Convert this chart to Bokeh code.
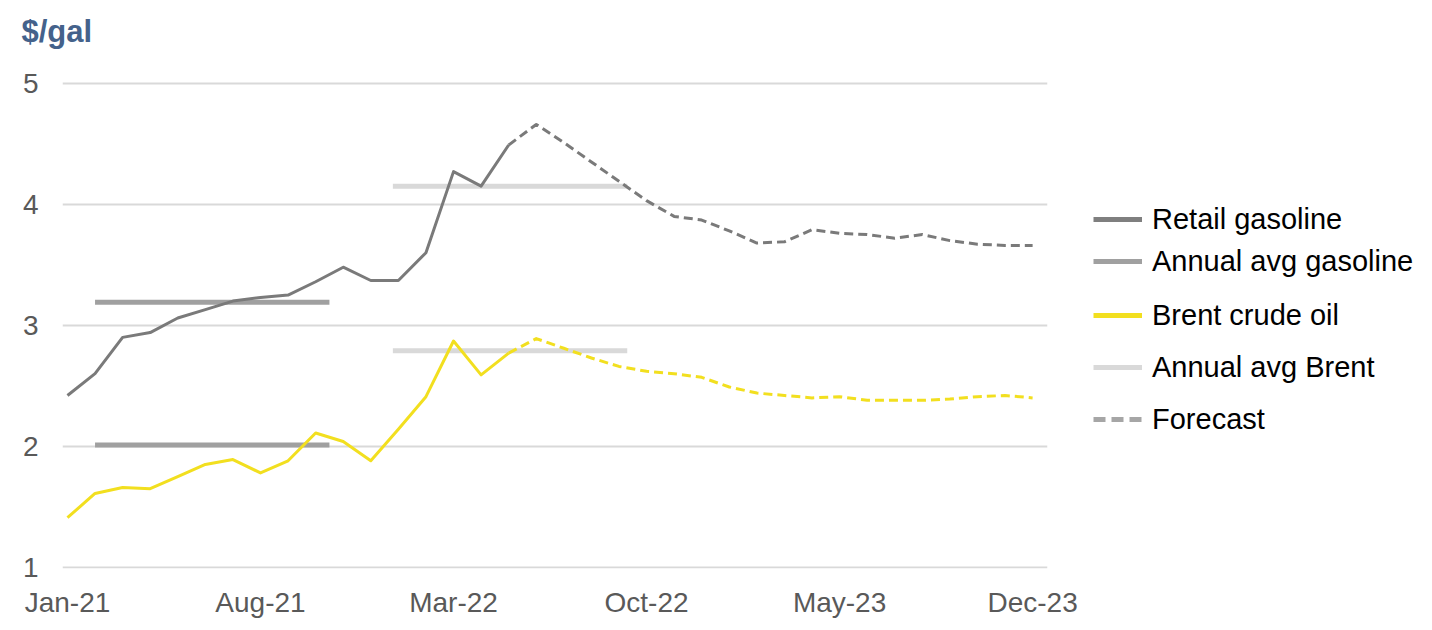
from bokeh.plotting import figure
from bokeh.layouts import row
from bokeh.models import Range1d, FixedTicker, Legend, LegendItem
from bokeh.embed import file_html
from bokeh.resources import INLINE

months = ["Jan-21", "Feb-21", "Mar-21", "Apr-21", "May-21", "Jun-21", "Jul-21", "Aug-21",
          "Sep-21", "Oct-21", "Nov-21", "Dec-21", "Jan-22", "Feb-22", "Mar-22", "Apr-22",
          "May-22", "Jun-22", "Jul-22", "Aug-22", "Sep-22", "Oct-22", "Nov-22", "Dec-22",
          "Jan-23", "Feb-23", "Mar-23", "Apr-23", "May-23", "Jun-23", "Jul-23", "Aug-23",
          "Sep-23", "Oct-23", "Nov-23", "Dec-23"]

gasoline = [2.42, 2.60, 2.90, 2.94, 3.06, 3.13, 3.20, 3.23, 3.25, 3.36, 3.48, 3.37,
            3.37, 3.60, 4.27, 4.15, 4.49, 4.66, 4.51, 4.35, 4.19, 4.03, 3.90, 3.87,
            3.78, 3.68, 3.69, 3.79, 3.76, 3.75, 3.72, 3.75, 3.70, 3.67, 3.66, 3.66]

brent = [1.41, 1.61, 1.66, 1.65, 1.75, 1.85, 1.89, 1.78, 1.88, 2.11, 2.04, 1.88,
         2.14, 2.41, 2.87, 2.59, 2.77, 2.89, 2.81, 2.73, 2.66, 2.62, 2.60, 2.57,
         2.49, 2.44, 2.42, 2.40, 2.41, 2.38, 2.38, 2.38, 2.39, 2.41, 2.42, 2.40]

last_history = 16  # May-22: last historical month, forecast starts here

avg_years = ["2021", "2022"]
avg_start = [1.0, 11.8]
avg_end = [9.5, 20.3]
avg_gasoline = [3.19, 4.15]
avg_brent = [2.01, 2.79]

tick_every = 7
y_ticks = [1, 2, 3, 4, 5]

legend_labels = ["Retail gasoline", "Annual avg gasoline", "Brent crude oil",
                 "Annual avg Brent", "Forecast"]

FONT = "Liberation Sans"
GAS = "#7a7a7a"
AVG_GAS = "#a0a0a0"
BRENT = "#f2df1f"
AVG_BRENT = "#d9d9d9"
FCST = "#a6a6a6"
avg_colors = [AVG_GAS, AVG_BRENT]  # the picture shades the bars by year

x = list(range(len(months)))
nan = float("nan")

p = figure(width=1090, height=630, output_backend="svg", toolbar_location=None,
           x_range=Range1d(-0.18, 35.54), y_range=Range1d(0.99, 5.271),
           min_border_left=62, min_border_right=43, min_border_top=50, min_border_bottom=62)
p.outline_line_color = None
p.background_fill_color = "white"
p.border_fill_color = "white"

p.title.text = "$/gal"
p.title.align = "left"
p.title.vertical_align = "bottom"
p.title.offset = -41
p.title.standoff = 4
p.title.text_font = FONT
p.title.text_font_size = "31px"
p.title.text_font_style = "bold"
p.title.text_color = "#44628b"

# axes
p.xaxis.ticker = FixedTicker(ticks=x[::tick_every])
p.xaxis.major_label_overrides = {i: months[i] for i in x[::tick_every]}
p.yaxis.ticker = FixedTicker(ticks=y_ticks)
for ax in (p.xaxis, p.yaxis):
    ax.axis_line_color = None
    ax.major_tick_line_color = None
    ax.minor_tick_line_color = None
    ax.major_label_text_font = FONT
    ax.major_label_text_font_size = "28px"
    ax.major_label_text_color = "#595959"
p.xaxis.major_label_standoff = 12
p.yaxis.major_label_standoff = 18

p.xgrid.grid_line_color = None
p.ygrid.ticker = FixedTicker(ticks=y_ticks)
p.ygrid.grid_line_color = "#d9d9d9"
p.ygrid.grid_line_width = 2

# annual averages
p.segment(x0=avg_start, x1=avg_end, y0=avg_gasoline, y1=avg_gasoline,
          line_color=avg_colors, line_width=5, line_cap="butt")
p.segment(x0=avg_start, x1=avg_end, y0=avg_brent, y1=avg_brent,
          line_color=avg_colors, line_width=5, line_cap="butt")

# history
h = last_history + 1
p.line(x[:h], gasoline[:h], line_color=GAS, line_width=3, line_join="round")
p.line(x[:h], brent[:h], line_color=BRENT, line_width=3, line_join="round")
# forecast
p.line(x[last_history:], gasoline[last_history:], line_color=GAS, line_width=3,
       line_dash="9 5", line_join="round")
p.line(x[last_history:], brent[last_history:], line_color=BRENT, line_width=3,
       line_dash="9 5", line_join="round")

# ---- legend panel (separate figure placed to the right) ----
lg = figure(width=342, height=630, output_backend="svg", toolbar_location=None,
            x_range=Range1d(0, 1), y_range=Range1d(0, 1),
            x_axis_location=None, y_axis_location=None,
            min_border_left=0, min_border_right=0, min_border_top=0, min_border_bottom=0)
lg.grid.visible = False
lg.outline_line_color = None
lg.background_fill_color = "white"
lg.border_fill_color = "white"

r1 = lg.line([0, 1], [nan, nan], line_color="#7f7f7f", line_width=5)
r2 = lg.line([0, 1], [nan, nan], line_color=AVG_GAS, line_width=5)
r3 = lg.line([0, 1], [nan, nan], line_color=BRENT, line_width=5)
r4 = lg.line([0, 1], [nan, nan], line_color=AVG_BRENT, line_width=5)
r5 = lg.line([0, 1], [nan, nan], line_color=FCST, line_width=5, line_dash="12 6")


def make_legend(items, spacing, loc):
    leg = Legend(items=items, location=loc, orientation="vertical")
    leg.label_text_font = FONT
    leg.label_text_font_size = "29px"
    leg.label_text_color = "black"
    leg.glyph_width = 49
    leg.glyph_height = 34
    leg.label_height = 34
    leg.label_standoff = 10
    leg.spacing = spacing
    leg.padding = 0
    leg.margin = 0
    leg.border_line_color = None
    leg.background_fill_alpha = 0
    return leg


legA = make_legend([LegendItem(label=legend_labels[0], renderers=[r1]),
                    LegendItem(label=legend_labels[1], renderers=[r2])], 8, (3, 290))
legB = make_legend([LegendItem(label=legend_labels[2], renderers=[r3]),
                    LegendItem(label=legend_labels[3], renderers=[r4]),
                    LegendItem(label=legend_labels[4], renderers=[r5])], 18, (3, 132))
lg.add_layout(legA)
lg.add_layout(legB)

layout = row(p, lg)
open("out.html", "w").write(file_html(layout, INLINE))
